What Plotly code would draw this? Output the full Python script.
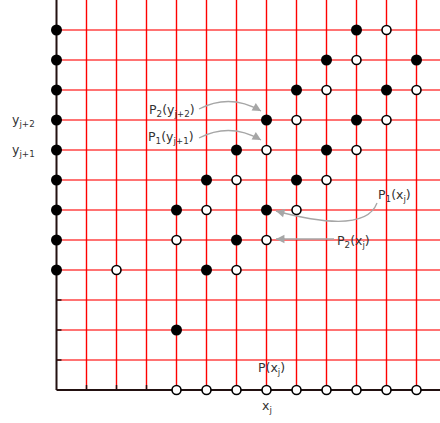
import math
import plotly.graph_objects as go

# ---- data (grid indices) ----
grid_cols = list(range(1, 13))          # vertical red lines at x = 1..12
grid_rows = list(range(1, 13))          # horizontal red lines at y = 1..12

filled_x = [0]*9 + [4, 5, 6, 7, 4, 5, 8, 6, 9, 7, 10, 8, 11, 9, 12, 10]
filled_y = [4, 5, 6, 7, 8, 9, 10, 11, 12] + [2, 4, 5, 6, 6, 7, 7, 8, 8, 9, 9, 10, 10, 11, 11, 12]

open_x = [4, 5, 6, 7, 8, 9, 10, 11, 12] + [2, 6, 4, 7, 5, 8, 6, 9, 7, 10, 8, 11, 9, 12, 10, 11]
open_y = [0]*9 + [4, 4, 5, 5, 6, 6, 7, 7, 8, 8, 9, 9, 10, 10, 11, 12]

y_tick_labels = {9: "y<sub>j+2</sub>", 8: "y<sub>j+1</sub>"}
x_tick_labels = {7: "x<sub>j</sub>"}

# ---- pixel <-> data helpers ----
X0, Y0, S = 56.5, 390.0, 30.0
def dx(px): return (px - X0) / S
def dy(py): return (Y0 - py) / S

XMIN, XMAX = dx(0), dx(440)
YMIN, YMAX = dy(423), dy(0)

fig = go.Figure()

# horizontal grid lines
hx, hy = [], []
for r in grid_rows:
    hx += [0, XMAX, None]; hy += [r, r, None]
fig.add_trace(go.Scatter(x=hx, y=hy, mode="lines", line=dict(color="rgba(255,0,0,0.55)", width=2),
                         hoverinfo="skip", showlegend=False))
# vertical grid lines
vx, vy = [], []
for c in grid_cols:
    vx += [c, c, None]; vy += [0, YMAX, None]
fig.add_trace(go.Scatter(x=vx, y=vy, mode="lines", line=dict(color="#ff0000", width=1.4),
                         hoverinfo="skip", showlegend=False))
# ticks
tl = 5 / S
tx, ty = [], []
for c in grid_cols:
    tx += [c, c, None]; ty += [0, tl, None]
for r in grid_rows:
    tx += [0, tl, None]; ty += [r, r, None]
fig.add_trace(go.Scatter(x=tx, y=ty, mode="lines", line=dict(color="#221111", width=1.5),
                         hoverinfo="skip", showlegend=False))
# axes
fig.add_trace(go.Scatter(x=[0, 0, None, 0, XMAX], y=[YMAX, 0, None, 0, 0], mode="lines",
                         line=dict(color="#221111", width=2), hoverinfo="skip", showlegend=False))

# points
fig.add_trace(go.Scatter(x=filled_x, y=filled_y, mode="markers",
                         marker=dict(size=11, color="black", line=dict(width=0)),
                         hoverinfo="skip", showlegend=False))
fig.add_trace(go.Scatter(x=open_x, y=open_y, mode="markers",
                         marker=dict(size=9, color="white", line=dict(width=1.6, color="black")),
                         hoverinfo="skip", showlegend=False))

font = dict(family="DejaVu Sans", size=12.5, color="#333333")
ann = []
for j, t in y_tick_labels.items():
    ann.append(dict(x=dx(23), y=j, text=t, showarrow=False, font=font, xanchor="center", yanchor="middle"))
for i, t in x_tick_labels.items():
    ann.append(dict(x=i, y=dy(406), text=t, showarrow=False, font=font, xanchor="center", yanchor="middle"))

labels = [
    ("P(x<sub>j</sub>)", 271, 368),
    ("P<sub>2</sub>(y<sub>j+2</sub>)", 172, 110),
    ("P<sub>1</sub>(y<sub>j+1</sub>)", 171, 137),
    ("P<sub>1</sub>(x<sub>j</sub>)", 394, 195),
    ("P<sub>2</sub>(x<sub>j</sub>)", 353, 241),
]
for t, px, py in labels:
    ann.append(dict(x=dx(px), y=dy(py), text=t, showarrow=False, font=font,
                    xanchor="center", yanchor="middle"))

# curved arrows (pixel coords: start, control, end)
curves = [
    ((199, 109), (230, 93), (261, 111)),
    ((199, 138), (230, 122), (261, 140)),
    ((377, 203), (365, 235), (276, 211)),
    ((334, 239), (305, 239), (276, 239)),
]
grey = "#a6a6a6"
shapes = []
for (sx, sy), (cx, cy), (ex, ey) in curves:
    path = f"M {dx(sx)},{dy(sy)} Q {dx(cx)},{dy(cy)} {dx(ex)},{dy(ey)}"
    shapes.append(dict(type="path", path=path, line=dict(color=grey, width=1.3)))
    vxp, vyp = ex - cx, ey - cy
    n = math.hypot(vxp, vyp)
    ann.append(dict(x=dx(ex), y=dy(ey), ax=-vxp / n * 10, ay=-vyp / n * 10, text="",
                    showarrow=True, arrowhead=2, arrowsize=1.3, arrowwidth=1.3, arrowcolor=grey))

fig.update_layout(
    width=440, height=423, margin=dict(l=0, r=0, t=0, b=0),
    paper_bgcolor="white", plot_bgcolor="white",
    xaxis=dict(range=[XMIN, XMAX], visible=False, fixedrange=True),
    yaxis=dict(range=[YMIN, YMAX], visible=False, fixedrange=True),
    annotations=ann, shapes=shapes, showlegend=False,
)
fig.write_html("out.html", config={"displayModeBar": False},
               post_script="document.body.style.margin='0';document.body.style.overflow='hidden';")
